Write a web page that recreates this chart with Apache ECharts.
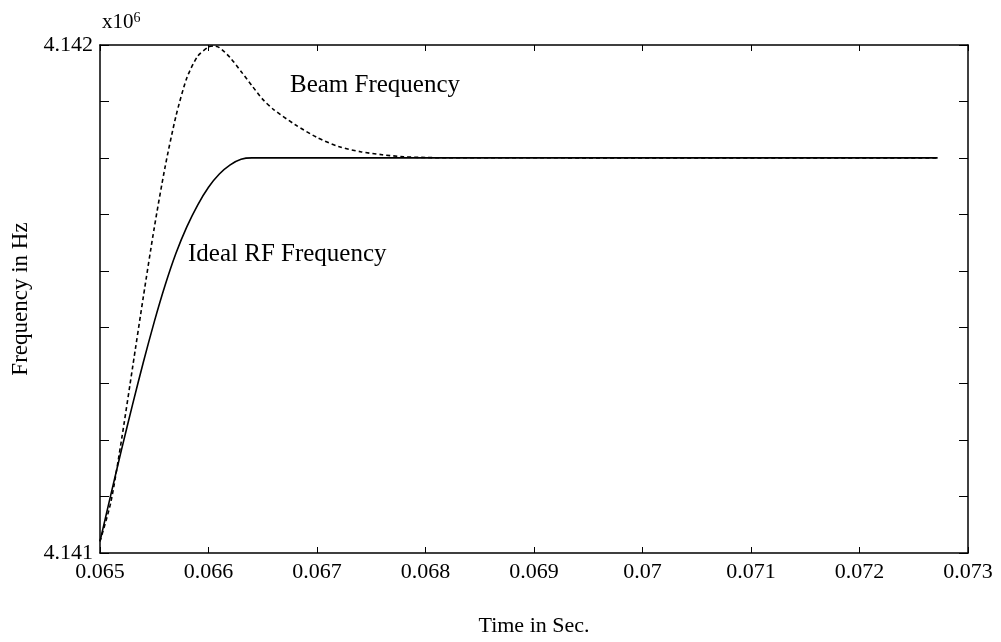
<!DOCTYPE html>
<html>
<head>
<meta charset="utf-8">
<script src="https://cdn.jsdelivr.net/npm/echarts@6/dist/echarts.min.js"></script>
<style>
html,body{margin:0;padding:0;background:#fff;}
#chart{width:1001px;height:642px;}
</style>
</head>
<body>
<div id="chart"></div>
<script>
// Time (s) and frequency (x10^6 Hz) values
const idealTime = [0.0650, 0.0651, 0.0652, 0.0653, 0.0654, 0.0655, 0.0656, 0.0657, 0.0658, 0.0659, 0.0660, 0.0661, 0.0662, 0.0663, 0.0664, 0.07272];
const idealFreq = [4.141023, 4.141115, 4.141205, 4.141292, 4.141376, 4.141455, 4.141527, 4.141590, 4.141642, 4.141685, 4.141720, 4.141746, 4.141764, 4.141775, 4.1417778, 4.1417778];

const beamTime = [0.0650, 0.0651, 0.0652, 0.0653, 0.0654, 0.0655, 0.0656, 0.0657, 0.0658, 0.0659, 0.0660, 0.06605, 0.0661, 0.0662, 0.0663, 0.0664, 0.0665, 0.0666, 0.0668, 0.0670, 0.0672, 0.0674, 0.0676, 0.0678, 0.0680, 0.0682, 0.07272];
const beamFreq = [4.141023, 4.141100, 4.141225, 4.141365, 4.141505, 4.141640, 4.141760, 4.141860, 4.141935, 4.141978, 4.141996, 4.141998, 4.141995, 4.141975, 4.141948, 4.141920, 4.141893, 4.141873, 4.141843, 4.141818, 4.141800, 4.141790, 4.141784, 4.141780, 4.1417785, 4.141778, 4.1417778];

const xTicks = ['0.065','0.066','0.067','0.068','0.069','0.07','0.071','0.072','0.073'];
const yTicks = ['4.141','4.142'];
const labels = {beam: 'Beam Frequency', ideal: 'Ideal RF Frequency'};

const FONT = '"Liberation Serif", "DejaVu Serif", serif';
const chart = echarts.init(document.getElementById('chart'));

const xMin = 0.065, xMax = 0.073;
const yMin = 4.141, yMax = 4.142;

function fmtX(v){ return parseFloat(v.toFixed(4)).toString(); }

const axisLine = {show: true, lineStyle: {color: '#000', width: 1.5}};
const baseX = {
  type: 'value', min: xMin, max: xMax, interval: 0.001,
  axisLine: axisLine,
  axisTick: {show: true, inside: true, length: 6, lineStyle: {color: '#000', width: 1}},
  splitLine: {show: false}
};
const baseY = {
  type: 'value', min: yMin, max: yMax, interval: 0.001,
  axisLine: axisLine,
  axisTick: {show: true, inside: true, length: 9, lineStyle: {color: '#000', width: 1}},
  minorTick: {show: true, splitNumber: 9, length: 9, lineStyle: {color: '#000', width: 1}},
  splitLine: {show: false},
  minorSplitLine: {show: false}
};

chart.setOption({
  backgroundColor: '#fff',
  animation: false,
  grid: {left: 100, right: 33, top: 45, bottom: 85, containLabel: false},
  xAxis: [
    Object.assign({}, baseX, {
      position: 'bottom',
      name: 'Time in Sec.', nameLocation: 'middle', nameGap: 62,
      nameTextStyle: {fontFamily: FONT, fontSize: 22, color: '#000'},
      axisLabel: {show: true, margin: 8, fontFamily: FONT, fontSize: 22, color: '#000',
        formatter: function(v){ const s = fmtX(v); return xTicks.indexOf(s) >= 0 ? s : ''; }}
    }),
    Object.assign({}, baseX, {position: 'top', axisLabel: {show: false}})
  ],
  yAxis: [
    Object.assign({}, baseY, {
      position: 'left',
      name: 'Frequency in Hz', nameLocation: 'middle', nameGap: 68,
      nameTextStyle: {fontFamily: FONT, fontSize: 23, color: '#000'},
      axisLabel: {show: true, margin: 7, fontFamily: FONT, fontSize: 22, color: '#000',
        formatter: function(v){ const s = v.toFixed(3); return yTicks.indexOf(s) >= 0 ? s : ''; }}
    }),
    Object.assign({}, baseY, {position: 'right', axisLabel: {show: false}})
  ],
  series: [
    {
      name: labels.ideal, type: 'line', xAxisIndex: 0, yAxisIndex: 0,
      data: idealTime.map((t, i) => [t, idealFreq[i]]),
      showSymbol: false, smooth: 0.25,
      lineStyle: {color: '#000', width: 1.6, type: 'solid'}
    },
    {
      name: labels.beam, type: 'line', xAxisIndex: 0, yAxisIndex: 0,
      data: beamTime.map((t, i) => [t, beamFreq[i]]),
      showSymbol: false, smooth: 0.25,
      lineStyle: {color: '#000', width: 1.6, type: [4, 3]}
    }
  ]
});

const pBeam = chart.convertToPixel({xAxisIndex: 0, yAxisIndex: 0}, [0.066751, 4.14192]);
const pIdeal = chart.convertToPixel({xAxisIndex: 0, yAxisIndex: 0}, [0.065811, 4.141587]);
const pCorner = chart.convertToPixel({xAxisIndex: 0, yAxisIndex: 0}, [xMin, yMax]);

chart.setOption({
  graphic: [
    {type: 'text', x: pBeam[0], y: pBeam[1],
      style: {text: labels.beam, font: '25px ' + FONT, fill: '#000', verticalAlign: 'middle', align: 'left'}},
    {type: 'text', x: pIdeal[0], y: pIdeal[1],
      style: {text: labels.ideal, font: '25px ' + FONT, fill: '#000', verticalAlign: 'middle', align: 'left'}},
    {type: 'text', left: pCorner[0] + 2, top: pCorner[1] - 34,
      style: {rich: {b: {font: '21px ' + FONT, fill: '#000'}, s: {font: '14px ' + FONT, fill: '#000', verticalAlign: 'top', padding: [0,0,8,0]}},
        text: '{b|x10}{s|6}'}}
  ]
});
</script>
</body>
</html>
